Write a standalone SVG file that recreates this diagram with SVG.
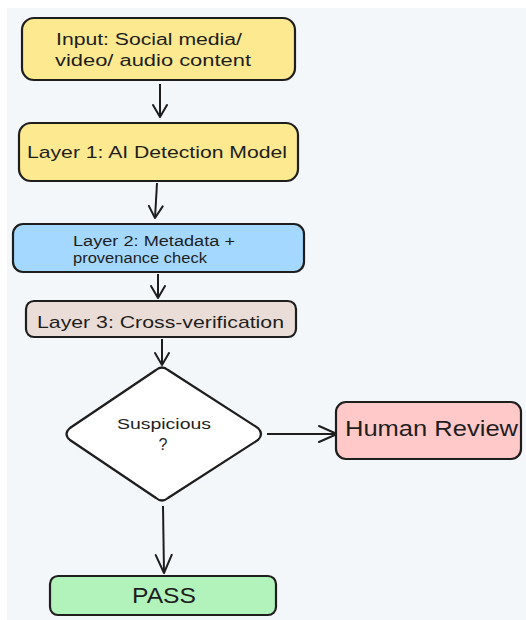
<svg xmlns="http://www.w3.org/2000/svg" width="526" height="620" viewBox="0 0 526 620">
<defs>
<style>
.box{stroke:#1e1e1e;stroke-width:2.2;}
.t{font-family:"Liberation Sans","DejaVu Sans",sans-serif;fill:#1e1e1e;}
.c{stroke:#1e1e1e;stroke-width:2;fill:none;}
</style>
<marker id="ah" viewBox="0 0 14 16" refX="13" refY="8" markerWidth="14" markerHeight="16" markerUnits="userSpaceOnUse" orient="auto">
<path d="M1,1 L13,8 L1,15" fill="none" stroke="#1e1e1e" stroke-width="2" stroke-linecap="round" stroke-linejoin="round"/>
</marker>
<marker id="ahl" viewBox="0 0 20 20" refX="19" refY="10" markerWidth="20" markerHeight="20" markerUnits="userSpaceOnUse" orient="auto">
<path d="M1,2 L19,10 L1,18" fill="none" stroke="#1e1e1e" stroke-width="2" stroke-linecap="round" stroke-linejoin="round"/>
</marker>
</defs>
<rect x="0" y="0" width="526" height="620" fill="#ffffff"/>
<rect x="7" y="8" width="519" height="612" fill="#f4f7fa"/>

<g id="connectors">
<path class="c" d="M160,84 L160,117" marker-end="url(#ah)"/>
<path class="c" d="M157,183 L155,218" marker-end="url(#ah)"/>
<path class="c" d="M158,274 L158,298" marker-end="url(#ah)"/>
<path class="c" d="M162,339 L162,365" marker-end="url(#ah)"/>
<path class="c" d="M267,434 L337,434" marker-end="url(#ahl)"/>
<path class="c" d="M163,506 L164,573" marker-end="url(#ahl)"/>
</g>

<g id="input">
<rect class="box" x="22" y="18" width="273" height="62" rx="12" fill="#fde98f"/>
<text class="t" x="56" y="45" font-size="16" textLength="186" lengthAdjust="spacingAndGlyphs">Input: Social media/</text>
<text class="t" x="55" y="66" font-size="16" textLength="196" lengthAdjust="spacingAndGlyphs">video/ audio content</text>
</g>

<g id="layer1">
<rect class="box" x="19" y="123" width="279" height="58" rx="12" fill="#fde98f"/>
<text class="t" x="27" y="158" font-size="17" textLength="260" lengthAdjust="spacingAndGlyphs">Layer 1: AI Detection Model</text>
</g>

<g id="layer2">
<rect class="box" x="13" y="224" width="291" height="48" rx="10" fill="#a5d8ff"/>
<text class="t" x="73" y="246" font-size="14" textLength="162" lengthAdjust="spacingAndGlyphs">Layer 2: Metadata +</text>
<text class="t" x="73" y="263" font-size="14" textLength="134" lengthAdjust="spacingAndGlyphs">provenance check</text>
</g>

<g id="layer3">
<rect class="box" x="26" y="301" width="270" height="36" rx="8" fill="#eaddd7"/>
<text class="t" x="37" y="328" font-size="17" textLength="247" lengthAdjust="spacingAndGlyphs">Layer 3: Cross-verification</text>
</g>

<g id="decision">
<path class="box" d="M156,370 Q162,365 168,370 L258,428 Q264,434 258,440 L168,498 Q162,503 156,498 L70,440 Q63,434 70,428 Z" fill="#ffffff"/>
<text class="t" x="164" y="429" font-size="14" text-anchor="middle" textLength="94" lengthAdjust="spacingAndGlyphs">Suspicious</text>
<text class="t" x="163" y="450" font-size="16" text-anchor="middle">?</text>
</g>

<g id="human-review">
<rect class="box" x="336" y="402" width="185" height="57" rx="10" fill="#ffc9c9"/>
<text class="t" x="345" y="436" font-size="22" textLength="173" lengthAdjust="spacingAndGlyphs">Human Review</text>
</g>

<g id="pass">
<rect class="box" x="50" y="576" width="226" height="39" rx="8" fill="#b2f2bb"/>
<text class="t" x="164" y="603" font-size="22" text-anchor="middle" textLength="64" lengthAdjust="spacingAndGlyphs">PASS</text>
</g>
</svg>
